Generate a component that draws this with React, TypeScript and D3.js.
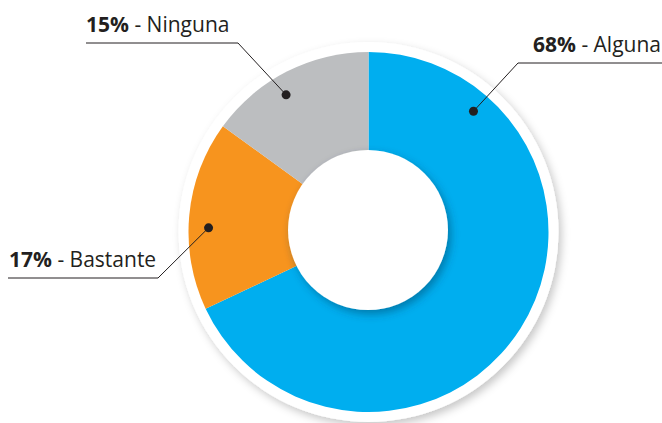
import React from "react";
import * as d3 from "d3";

const categories = ["Alguna", "Bastante", "Ninguna"];
const values = [68, 17, 15];
const colors = ["#00AEEF", "#F7941E", "#BCBEC0"];
const labelAngles = [41, 271.5, 329];

const W = 662;
const H = 423;
const cx = 368.5;
const cy = 232;
const R = 180;
const ringR = 190;
const holeR = 80;
const font = "'Open Sans', 'Noto Sans', sans-serif";

export default function App() {
  const pie = d3.pie<number>().sort(null).value((d) => d);
  const arcs = pie(values);
  const arc = d3.arc<d3.PieArcDatum<number>>().innerRadius(0).outerRadius(R);

  const dotR = 160;
  const dot = (deg: number) => {
    const a = (deg * Math.PI) / 180;
    return [cx + dotR * Math.sin(a), cy - dotR * Math.cos(a)];
  };

  const labels = [
    { elbowX: 518, lineY: 63, x0: 518, x1: 662, tx: 661, ty: 52, anchor: "end" },
    { elbowX: 158, lineY: 278, x0: 8, x1: 158, tx: 9, ty: 267, anchor: "start" },
    { elbowX: 238, lineY: 43, x0: 86, x1: 238, tx: 86, ty: 32, anchor: "start" },
  ];

  return (
    <svg width={W} height={H} style={{ position: "absolute", left: 0, top: 0 }}>
      <defs>
        <filter id="ringShadow" x="-20%" y="-20%" width="140%" height="140%">
          <feDropShadow dx="3" dy="4" stdDeviation="4" floodColor="#000" floodOpacity="0.22" />
        </filter>
        <filter id="holeShadow" x="-30%" y="-30%" width="160%" height="160%">
          <feDropShadow dx="3" dy="4" stdDeviation="4" floodColor="#003a5c" floodOpacity="0.45" />
        </filter>
      </defs>
      <rect width={W} height={H} fill="#fff" />
      <circle cx={cx} cy={cy} r={ringR} fill="#fff" filter="url(#ringShadow)" />
      <g transform={`translate(${cx},${cy})`}>
        {arcs.map((a, i) => (
          <path key={categories[i]} d={arc(a) || ""} fill={colors[i]} />
        ))}
      </g>
      <circle cx={cx - 0.5} cy={cy - 2} r={holeR} fill="#fff" filter="url(#holeShadow)" />
      {categories.map((c, i) => {
        const [dx, dy] = dot(labelAngles[i]);
        const l = labels[i];
        return (
          <g key={c}>
            <polyline
              points={`${l.x0},${l.lineY} ${l.x1},${l.lineY}`}
              fill="none"
              stroke="#231F20"
              strokeWidth={1}
            />
            <line x1={l.elbowX} y1={l.lineY} x2={dx} y2={dy} stroke="#231F20" strokeWidth={1} />
            <circle cx={dx} cy={dy} r={4.5} fill="#231F20" />
            <text
              x={l.tx}
              y={l.ty}
              textAnchor={l.anchor as any}
              fontFamily={font}
              fontSize={21}
              fill="#231F20"
            >
              <tspan fontWeight={700}>{values[i]}%</tspan>
              <tspan fontWeight={400}>{" - " + c}</tspan>
            </text>
          </g>
        );
      })}
    </svg>
  );
}
